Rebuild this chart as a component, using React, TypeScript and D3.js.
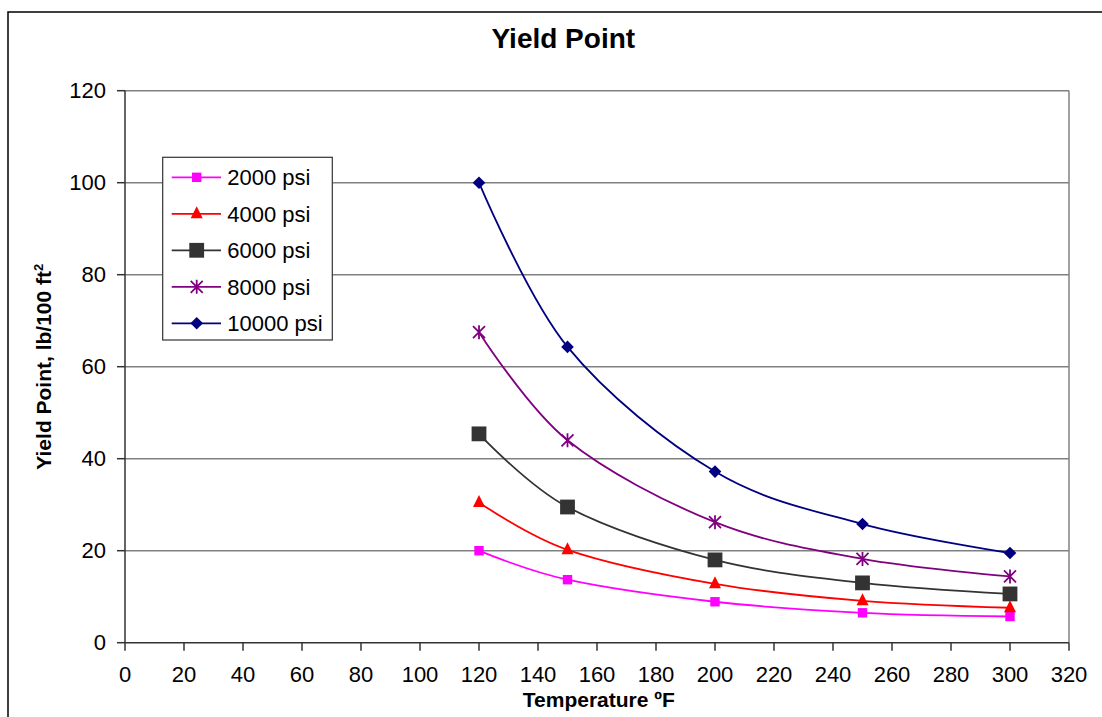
import React from "react";
import * as d3 from "d3";

// Temperatures (ºF) at which yield point was measured
const temperatures = [120, 150, 200, 250, 300];

// Yield point (lb/100 ft²) per pressure series
const yp2000 = [20.0, 13.7, 8.9, 6.5, 5.7];
const yp4000 = [30.5, 20.2, 12.8, 9.1, 7.6];
const yp6000 = [45.4, 29.5, 18.0, 13.0, 10.6];
const yp8000 = [67.5, 44.0, 26.2, 18.2, 14.4];
const yp10000 = [100.0, 64.3, 37.2, 25.8, 19.5];

const seriesNames = ["2000 psi", "4000 psi", "6000 psi", "8000 psi", "10000 psi"];
const seriesValues = [yp2000, yp4000, yp6000, yp8000, yp10000];
const seriesColors = ["#FF00FF", "#FF0000", "#333333", "#800080", "#000080"];
const seriesMarkers = ["smallSquare", "triangle", "bigSquare", "star", "diamond"];

const xTicks = d3.range(0, 321, 20);
const yTicks = d3.range(0, 121, 20);

const W = 1102;
const H = 717;
const plot = { left: 125, right: 1069, top: 90.7, bottom: 642.7 };

const x = d3.scaleLinear().domain([0, 320]).range([plot.left, plot.right]);
const y = d3.scaleLinear().domain([0, 120]).range([plot.bottom, plot.top]);

const FONT = "'Liberation Sans', Arial, Helvetica, sans-serif";

function Marker({ kind, cx, cy, color }: { kind: string; cx: number; cy: number; color: string }) {
  switch (kind) {
    case "smallSquare":
      return <rect x={cx - 4.7} y={cy - 4.7} width={9.4} height={9.4} fill={color} />;
    case "bigSquare":
      return <rect x={cx - 7.4} y={cy - 7.4} width={14.8} height={14.8} fill={color} />;
    case "triangle": {
      const s = 6;
      return (
        <path
          d={`M${cx},${cy - 7.5}L${cx + s},${cy + 4.5}L${cx - s},${cy + 4.5}Z`}
          fill={color}
        />
      );
    }
    case "diamond": {
      const r = 6.3;
      return (
        <path d={`M${cx},${cy - r}L${cx + r},${cy}L${cx},${cy + r}L${cx - r},${cy}Z`} fill={color} />
      );
    }
    case "star": {
      const r = 6;
      return (
        <path
          d={`M${cx - r},${cy - r}L${cx + r},${cy + r}M${cx - r},${cy + r}L${cx + r},${cy - r}M${cx},${cy - r - 1}L${cx},${cy + r + 1}`}
          stroke={color}
          strokeWidth={1.8}
          fill="none"
        />
      );
    }
    default:
      return null;
  }
}

export default function App() {
  const line = d3
    .line<number>()
    .x((_, i) => x(temperatures[i]))
    .y((v) => y(v))
    .curve(d3.curveCardinal.tension(0));

  const legend = { x: 162.7, y: 157.3, w: 169.6, h: 182.7, row0: 177.3, dy: 36.5 };

  return (
    <svg
      width={W}
      height={H}
      style={{ position: "absolute", left: 0, top: 0, background: "#fff" }}
      fontFamily={FONT}
    >
      {/* chart frame */}
      <rect x={8} y={12} width={1110} height={720} fill="#fff" stroke="#000" strokeWidth={1.5} />

      {/* title */}
      <text x={563.3} y={48.3} textAnchor="middle" fontSize={28} fontWeight="bold">
        Yield Point
      </text>

      {/* horizontal gridlines */}
      {yTicks
        .filter((t) => t > 0)
        .map((t) => (
          <line key={"g" + t} x1={plot.left} x2={plot.right} y1={y(t)} y2={y(t)} stroke="#808080" strokeWidth={1.5} />
        ))}
      {/* right edge of plot area */}
      <line x1={plot.right} x2={plot.right} y1={plot.top} y2={plot.bottom} stroke="#808080" strokeWidth={1.5} />

      {/* axes */}
      <line x1={plot.left} x2={plot.left} y1={plot.top} y2={plot.bottom} stroke="#333" strokeWidth={1.5} />
      <line x1={plot.left} x2={plot.right} y1={plot.bottom} y2={plot.bottom} stroke="#333" strokeWidth={1.5} />

      {/* y ticks and labels */}
      {yTicks.map((t) => (
        <g key={"y" + t}>
          <line x1={plot.left - 8} x2={plot.left} y1={y(t)} y2={y(t)} stroke="#333" strokeWidth={1.5} />
          <text x={106} y={y(t) + 7.5} textAnchor="end" fontSize={22}>
            {t}
          </text>
        </g>
      ))}

      {/* x ticks and labels */}
      {xTicks.map((t) => (
        <g key={"x" + t}>
          <line x1={x(t)} x2={x(t)} y1={plot.bottom} y2={plot.bottom + 8} stroke="#333" strokeWidth={1.5} />
          <text x={x(t)} y={682} textAnchor="middle" fontSize={22}>
            {t}
          </text>
        </g>
      ))}

      {/* axis titles */}
      <text x={598.8} y={706.7} textAnchor="middle" fontSize={21} fontWeight="bold">
        Temperature ºF
      </text>
      <text
        transform={`translate(51,${(plot.top + plot.bottom) / 2}) rotate(-90)`}
        textAnchor="middle"
        fontSize={21}
        fontWeight="bold"
      >
        Yield Point, lb/100 ft
        <tspan dy={-8} fontSize={13}>
          2
        </tspan>
      </text>

      {/* series */}
      {seriesValues.map((vals, si) => (
        <g key={"s" + si}>
          <path d={line(vals) || ""} fill="none" stroke={seriesColors[si]} strokeWidth={1.8} />
          {vals.map((v, i) => (
            <Marker key={i} kind={seriesMarkers[si]} cx={x(temperatures[i])} cy={y(v)} color={seriesColors[si]} />
          ))}
        </g>
      ))}

      {/* legend */}
      <rect
        x={legend.x}
        y={legend.y}
        width={legend.w}
        height={legend.h}
        fill="#fff"
        stroke="#333"
        strokeWidth={1.2}
      />
      {seriesNames.map((name, i) => {
        const ly = legend.row0 + i * legend.dy;
        return (
          <g key={"l" + i}>
            <line x1={171.7} x2={221} y1={ly} y2={ly} stroke={seriesColors[i]} strokeWidth={1.8} />
            <Marker kind={seriesMarkers[i]} cx={196.7} cy={ly} color={seriesColors[i]} />
            <text x={227.3} y={ly + 7.8} fontSize={22}>
              {name}
            </text>
          </g>
        );
      })}
    </svg>
  );
}
